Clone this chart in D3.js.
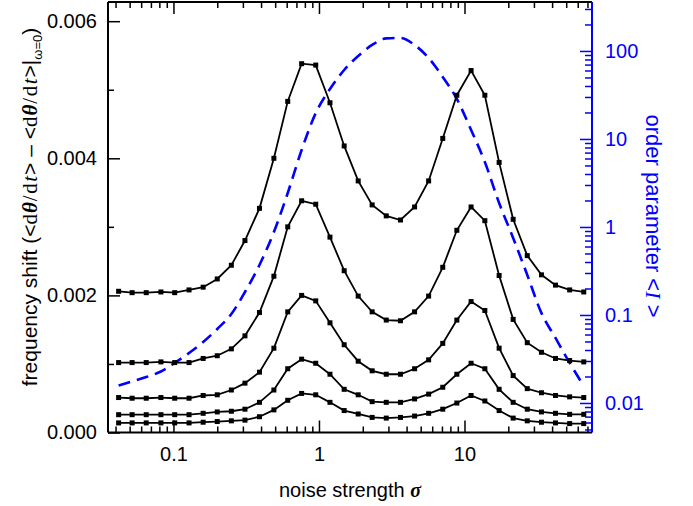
<!DOCTYPE html>
<html>
<head>
<meta charset="UTF-8">
<script src="https://cdnjs.cloudflare.com/ajax/libs/d3/7.8.5/d3.min.js"></script>
<style>
  html, body { margin: 0; padding: 0; background: #fff; }
  svg { display: block; font-family: "Liberation Sans", Arial, sans-serif; }
</style>
</head>
<body>
<div id="chart"></div>
<script>
// noise strength sigma (sample points, log spaced)
const sigma = [0.042, 0.052, 0.065, 0.082, 0.102, 0.128, 0.16, 0.2, 0.25, 0.31, 0.39, 0.49,
  0.61, 0.76, 0.95, 1.19, 1.49, 1.86, 2.32, 2.9, 3.63, 4.54, 5.67, 7.09, 8.86, 11.1,
  13.8, 17.3, 21.6, 27, 33.8, 42.2, 52.8, 66]

// frequency shift, one array per curve (top to bottom)
const shift1 = [0.00206, 0.00204, 0.00204, 0.00205, 0.00204, 0.00208, 0.00212, 0.00224, 0.00244, 0.00280,
  0.00327, 0.00400, 0.00483, 0.00538, 0.00536, 0.00481, 0.00418, 0.00367, 0.00332, 0.00316, 0.00310,
  0.00329, 0.00367, 0.00429, 0.00492, 0.00528, 0.00492, 0.00394, 0.00311, 0.00258, 0.00230, 0.00215,
  0.00208, 0.00205]
const shift2 = [0.00102, 0.00102, 0.00102, 0.00103, 0.00102, 0.00102, 0.00108, 0.00112, 0.00122, 0.00141,
  0.00175, 0.00228, 0.00300, 0.00338, 0.00333, 0.00285, 0.00236, 0.00199, 0.00176, 0.00164, 0.00163,
  0.00176, 0.00199, 0.00241, 0.00295, 0.00329, 0.00309, 0.00229, 0.00165, 0.00131, 0.00117, 0.00108,
  0.00105, 0.00103]
const shift3 = [0.00051, 0.00050, 0.00050, 0.00051, 0.00050, 0.00050, 0.00054, 0.00055, 0.00062, 0.00072,
  0.00088, 0.00123, 0.00176, 0.00200, 0.00192, 0.00160, 0.00128, 0.00104, 0.00090, 0.00085, 0.00085,
  0.00093, 0.00106, 0.00130, 0.00164, 0.00191, 0.00178, 0.00123, 0.00083, 0.00064, 0.00058, 0.00054,
  0.00052, 0.00051]
const shift4 = [0.00026, 0.00026, 0.00026, 0.00026, 0.00026, 0.00026, 0.00028, 0.00030, 0.00031, 0.00034,
  0.00044, 0.00062, 0.00093, 0.00107, 0.00101, 0.00085, 0.00063, 0.00055, 0.00045, 0.00044, 0.00044,
  0.00049, 0.00056, 0.00066, 0.00085, 0.00101, 0.00093, 0.00063, 0.00044, 0.00034, 0.00030, 0.00028,
  0.000265, 0.000265]
const shift5 = [0.00014, 0.00014, 0.00014, 0.00014, 0.00014, 0.00014, 0.00015, 0.00016, 0.00017, 0.00018,
  0.00023, 0.00033, 0.00047, 0.00057, 0.00055, 0.00044, 0.00032, 0.00027, 0.00022, 0.00021, 0.00022,
  0.00024, 0.00028, 0.00034, 0.00043, 0.00054, 0.00046, 0.00032, 0.00021, 0.00017, 0.00015, 0.00014,
  0.00013, 0.00013]

// order parameter <I> (right axis, log)
const orderParam = [0.0158, 0.0176, 0.0197, 0.0228, 0.0285, 0.037, 0.0493, 0.0693, 0.1026, 0.1825,
  0.37, 0.877, 2.43, 7.5, 19.7, 37, 60.8, 87.7, 117, 139, 140.6, 117, 83.3, 50.7, 28.5, 12.65,
  5.48, 1.87, 0.75, 0.285, 0.105, 0.0548, 0.0285, 0.0156]

// tick labels
const xLabels = [0.1, 1, 10]
const yLeftTicks = [0, 0.002, 0.004, 0.006]
const yLeftMinor = [0.001, 0.003, 0.005]
const yRightLabels = [0.01, 0.1, 1, 10, 100]

const W = 693, H = 506
const margin = { top: 2, right: 101, bottom: 73.5, left: 108 }
const width = W - margin.left - margin.right
const height = H - margin.top - margin.bottom
const blue = '#0000ff'

const svg = d3.select('#chart').append('svg')
  .attr('width', W).attr('height', H)
const g = svg.append('g')
  .attr('transform', 'translate(' + margin.left + ',' + margin.top + ')')

const x = d3.scaleLog().domain([0.0355, 75.2]).range([0, width])
const y = d3.scaleLinear().domain([0, 0.00628]).range([height, 0])
const yR = d3.scaleLog().domain([0.00462, 360]).range([height, 0])

// log minor ticks
const logTicks = (lo, hi) => {
  const out = []
  for (let e = Math.floor(Math.log10(lo)); e <= Math.ceil(Math.log10(hi)); e++) {
    for (let m = 1; m < 10; m++) {
      const v = m * Math.pow(10, e)
      if (v >= lo && v <= hi) out.push(+v.toPrecision(3))
    }
  }
  return out
}
const xAll = logTicks(x.domain()[0], x.domain()[1])
const xMajor = xAll.filter(v => Math.abs(Math.log10(v) - Math.round(Math.log10(v))) < 1e-6)
const xMinor = xAll.filter(v => !xMajor.includes(v))
const rAll = logTicks(yR.domain()[0], yR.domain()[1])
const rMajor = rAll.filter(v => Math.abs(Math.log10(v) - Math.round(Math.log10(v))) < 1e-6)
const rMinor = rAll.filter(v => !rMajor.includes(v))

const styleAxis = (sel, color, fs) => {
  sel.selectAll('.domain').remove()
  sel.selectAll('line').attr('stroke', color).attr('stroke-width', 1.5)
  sel.selectAll('text').attr('fill', color).attr('font-size', fs)
    .attr('font-family', '"Liberation Sans", Arial, sans-serif')
}

// bottom axis
g.append('g').attr('transform', 'translate(0,' + height + ')')
  .call(d3.axisBottom(x).tickValues(xMinor).tickSize(-6).tickFormat(''))
  .call(s => styleAxis(s, '#000', 20))
g.append('g').attr('transform', 'translate(0,' + height + ')')
  .call(d3.axisBottom(x).tickValues(xMajor).tickSize(-12).tickPadding(14)
    .tickFormat(d => xLabels.includes(d) ? d3.format('~g')(d) : ''))
  .call(s => styleAxis(s, '#000', 20))
// top axis
g.append('g')
  .call(d3.axisTop(x).tickValues(xMinor).tickSize(-6).tickFormat(''))
  .call(s => styleAxis(s, '#000', 20))
g.append('g')
  .call(d3.axisTop(x).tickValues(xMajor).tickSize(-12).tickFormat(''))
  .call(s => styleAxis(s, '#000', 20))

// left axis
g.append('g')
  .call(d3.axisLeft(y).tickValues(yLeftMinor).tickSize(-6).tickFormat(''))
  .call(s => styleAxis(s, '#000', 20))
g.append('g')
  .call(d3.axisLeft(y).tickValues(yLeftTicks).tickSize(-12).tickPadding(11).tickFormat(d3.format('.3f')))
  .call(s => styleAxis(s, '#000', 20))

// right axis
g.append('g').attr('transform', 'translate(' + width + ',0)')
  .call(d3.axisRight(yR).tickValues(rMinor).tickSize(-7).tickFormat(''))
  .call(s => styleAxis(s, blue, 20))
g.append('g').attr('transform', 'translate(' + width + ',0)')
  .call(d3.axisRight(yR).tickValues(rMajor).tickSize(-12).tickPadding(13)
    .tickFormat(d => yRightLabels.includes(d) ? d3.format('~g')(d) : ''))
  .call(s => styleAxis(s, blue, 20))

// frame
g.append('line').attr('x1', 0).attr('x2', width).attr('y1', height).attr('y2', height)
  .attr('stroke', '#000').attr('stroke-width', 2)
g.append('line').attr('x1', 0).attr('x2', width).attr('y1', 0).attr('y2', 0)
  .attr('stroke', '#000').attr('stroke-width', 2)
g.append('line').attr('x1', 0).attr('x2', 0).attr('y1', 0).attr('y2', height)
  .attr('stroke', '#000').attr('stroke-width', 2)
g.append('line').attr('x1', width).attr('x2', width).attr('y1', 0).attr('y2', height)
  .attr('stroke', blue).attr('stroke-width', 2)

// order parameter (dashed)
const orderData = sigma.map((s, i) => ({ s, v: orderParam[i] }))
g.append('path').datum(orderData)
  .attr('fill', 'none').attr('stroke', blue).attr('stroke-width', 2.6)
  .attr('stroke-dasharray', '12,7')
  .attr('d', d3.line().curve(d3.curveMonotoneX).x(d => x(d.s)).y(d => yR(d.v)))

// frequency shift curves
const series = [shift1, shift2, shift3, shift4, shift5]
const line = d3.line().x(d => x(d.s)).y(d => y(d.v))
series.forEach(arr => {
  const data = sigma.map((s, i) => ({ s, v: arr[i] }))
  g.append('path').datum(data)
    .attr('fill', 'none').attr('stroke', '#000').attr('stroke-width', 1.8)
    .attr('d', line)
  g.selectAll(null).data(data).enter().append('rect')
    .attr('x', d => x(d.s) - 2.5).attr('y', d => y(d.v) - 2.5)
    .attr('width', 5).attr('height', 5).attr('fill', '#000')
})

// axis titles
svg.append('text')
  .attr('x', margin.left + width / 2).attr('y', 497)
  .attr('text-anchor', 'middle').attr('font-size', 20)
  .text('noise strength ')
  .append('tspan').attr('font-family', '"Liberation Serif", serif')
  .attr('font-style', 'italic').attr('font-weight', 'bold').text('σ')

const yl = svg.append('text')
  .attr('transform', 'translate(37,207) rotate(-90)')
  .attr('text-anchor', 'middle').attr('font-size', 21)
const serif = '"Liberation Serif", serif'
const mathPart = () => {
  yl.append('tspan').attr('font-family', serif).attr('letter-spacing', 1).text('d')
  yl.append('tspan').attr('font-family', serif).attr('font-style', 'italic').attr('font-weight', 'bold')
    .attr('letter-spacing', 1).text('θ')
  yl.append('tspan').attr('font-family', serif).attr('letter-spacing', 1.5).text('/d')
  yl.append('tspan').attr('font-family', serif).attr('font-style', 'italic').attr('letter-spacing', 1).text('t')
}
yl.append('tspan').text('frequency shift (<')
mathPart()
yl.append('tspan').text('> – <')
mathPart()
yl.append('tspan').text('>|')
yl.append('tspan').attr('font-size', 13).attr('dy', 5).text('ω=0')
yl.append('tspan').attr('dy', -5).text(')')

const yr = svg.append('text')
  .attr('transform', 'translate(646,216) rotate(90)')
  .attr('text-anchor', 'middle').attr('font-size', 22).attr('fill', blue)
yr.append('tspan').text('order parameter <')
yr.append('tspan').attr('font-family', serif).attr('font-style', 'italic').text('I')
yr.append('tspan').text(' >')
</script>
</body>
</html>
